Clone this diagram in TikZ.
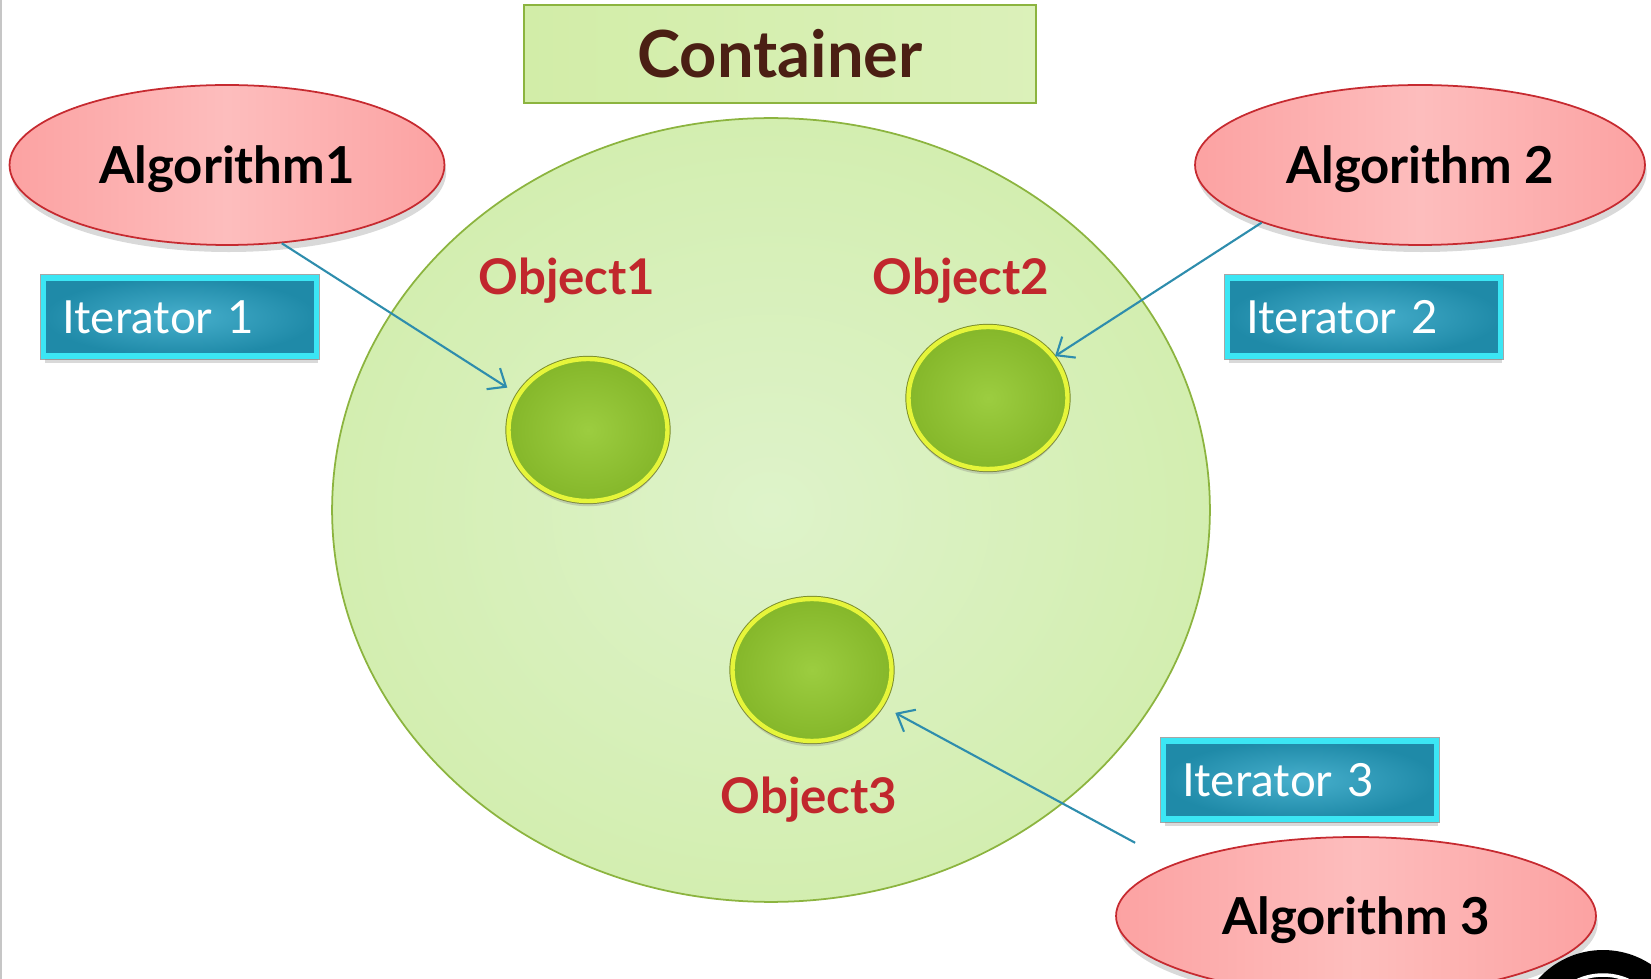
\documentclass[tikz,border=0pt]{standalone}
\usepackage{fontspec}
\setmainfont{Lato}
\usetikzlibrary{shapes.geometric, arrows.meta, positioning, calc, shadows}

\definecolor{boxgreen}{HTML}{D2EDA8}
\definecolor{boxedge}{HTML}{8CB43F}
\definecolor{ringfill}{HTML}{D3EEB0}
\definecolor{ringcentre}{HTML}{DEF3CA}
\definecolor{algpink}{HTML}{FCA2A2}
\definecolor{algpinklight}{HTML}{FDBDBD}
\definecolor{algedge}{HTML}{C62A30}
\definecolor{iterteal}{HTML}{1F8AA8}
\definecolor{iterlight}{HTML}{47AFCC}
\definecolor{itercyan}{HTML}{3BE6F4}
\definecolor{ballgreen}{HTML}{85B72A}
\definecolor{balllight}{HTML}{9CCD40}
\definecolor{ballrim}{HTML}{E6F53A}
\definecolor{balledge}{HTML}{7C8E2C}
\definecolor{objred}{HTML}{C1272D}
\definecolor{titlebrown}{HTML}{4B1F14}
\definecolor{arrowteal}{HTML}{2E8DAD}

\tikzstyle{title} = [rectangle, draw=boxedge, line width=1pt, left color=boxgreen, right color=boxgreen!80!white, minimum width=10.24cm, minimum height=1.96cm, font=\fontsize{37}{42}\selectfont\bfseries, text=titlebrown]
\tikzstyle{container} = [ellipse, draw=boxedge, line width=1pt, inner color=ringcentre, outer color=ringfill, minimum width=17.56cm, minimum height=15.68cm]
\tikzstyle{algo} = [ellipse, draw=algedge, line width=1pt, left color=algpink, right color=algpink, middle color=algpinklight, minimum width=8.7cm, minimum height=3.2cm, inner sep=0pt, text depth=0pt, font=\fontsize{29}{34}\selectfont\bfseries, drop shadow={opacity=0.3, shadow xshift=1pt, shadow yshift=-4pt}]
\tikzstyle{iter} = [rectangle, draw=itercyan, line width=3pt, inner color=iterlight, outer color=iterteal, text width=4.7cm, inner xsep=0.38cm, minimum height=1.56cm, align=left, text=white, font=\fontsize{26}{30}\selectfont, preaction={draw=gray!70, line width=4.4pt}, drop shadow={opacity=0.3, shadow xshift=1pt, shadow yshift=-4pt}]
\tikzstyle{ball} = [ellipse, draw=ballrim, line width=2.5pt, inner color=balllight, outer color=ballgreen, minimum width=3.18cm, minimum height=2.84cm, preaction={draw=balledge, line width=3.6pt}, drop shadow={opacity=0.3, shadow xshift=0pt, shadow yshift=-3pt}]
\tikzstyle{label} = [font=\fontsize{28}{32}\selectfont\bfseries, text=objred]
\tikzstyle{line} = [draw=arrowteal, line width=1.2pt, -{Straight Barb[length=0.3cm, width=0.5cm]}]

\begin{document}
\begin{tikzpicture}[x=0.02cm, y=-0.02cm]
            \useasboundingbox (0,0) rectangle (1651,979);
            \draw [gray!45, line width=1pt] (1,0) -- (1,979);

            % Container
            \node [title] (cont) at (780,54) {Container};
            \node [container] (ring) at (771,510) {};

            % Objects
            \node [ball] (obj1) at (588,430) {};
            \node [ball] (obj2) at (988,398) {};
            \node [ball] (obj3) at (812,670) {};
            \node [label, above of=obj1, node distance=2.98cm, xshift=-0.42cm] (lab1) {Object1};
            \node [label, above of=obj2, node distance=2.34cm, xshift=-0.54cm] (lab2) {Object2};
            \node [label, below of=obj3, node distance=2.6cm, xshift=-0.06cm] (lab3) {Object3};

            % Algorithms and iterators
            \node [algo] (alg1) at (227,165) {Algorithm1};
            \node [algo, minimum width=9cm] (alg2) at (1420,165) {Algorithm 2};
            \node [algo, minimum width=9.6cm, minimum height=3.16cm] (alg3) at (1356,916) {Algorithm 3};
            \node [iter, below of=alg1, node distance=3.04cm, xshift=-0.94cm] (it1) {Iterator 1};
            \node [iter, below of=alg2, node distance=3.04cm, xshift=-1.12cm] (it2) {Iterator 2};
            \node [iter, above of=alg3, node distance=2.72cm, xshift=-1.12cm] (it3) {Iterator 3};

            % Lines
            \path [line, shorten >=0.23cm] (alg1.-55) -- (obj1.153);
            \path [line] (alg2.200) -- (obj2.32);
            \path [line, shorten <=0.88cm, shorten >=0.28cm] (alg3.164) -- (obj3.-27);

            % corner badge
            \fill [black] (1603,1037) circle (1.74cm);
            \draw [white, line width=2pt] (1603,1037) circle (1.24cm);
        \end{tikzpicture}
\end{document}
